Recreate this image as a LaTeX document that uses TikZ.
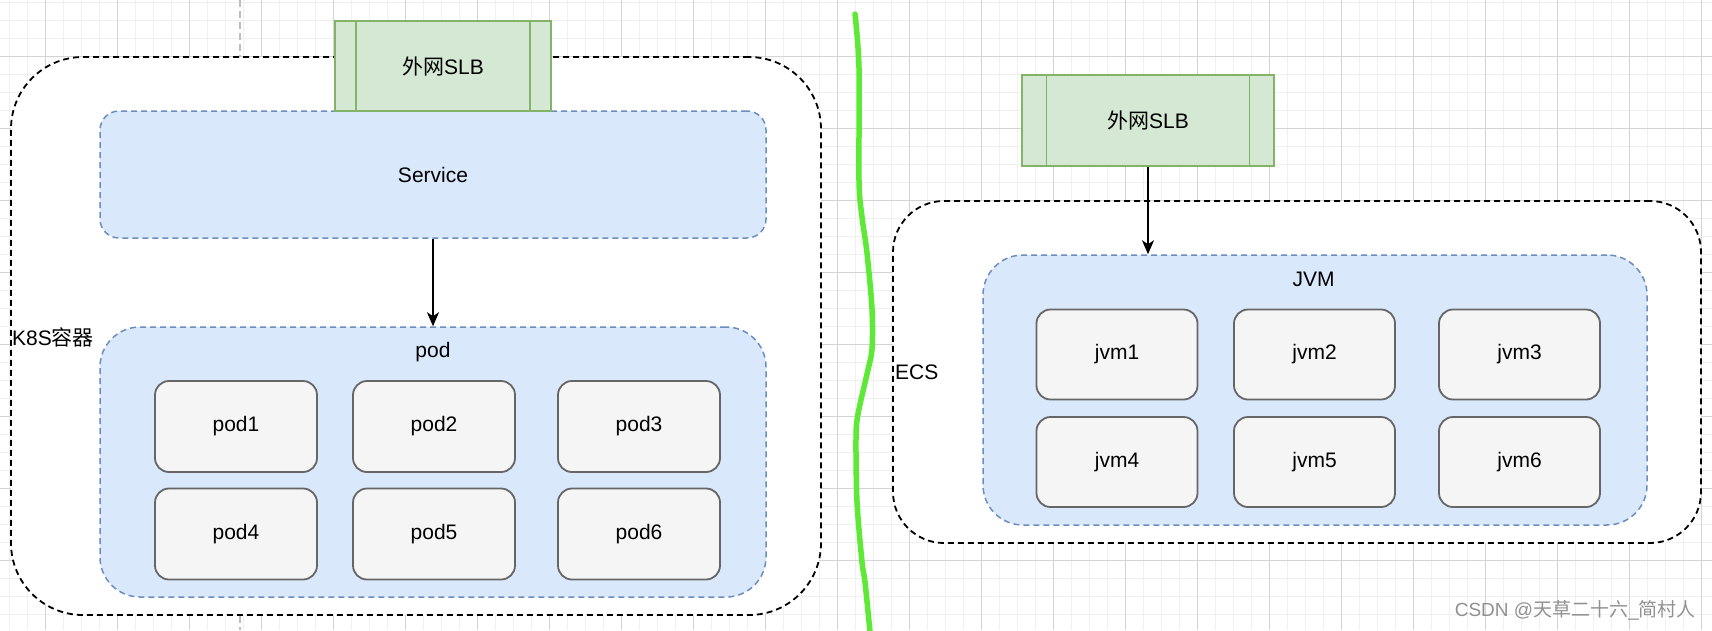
\documentclass[tikz,border=0pt]{standalone}
\usepackage{fontspec}
\setmainfont{Liberation Sans}
\newfontfamily\cjk{Noto Sans CJK SC}
\usetikzlibrary{arrows.meta,calc}
\definecolor{slbfill}{HTML}{D5E8D4}
\definecolor{slbline}{HTML}{82B366}
\definecolor{bluefill}{HTML}{DAE8FC}
\definecolor{blueline}{HTML}{6C8EBF}
\definecolor{podfill}{HTML}{F5F5F5}
\definecolor{podline}{HTML}{666666}
\definecolor{gridminor}{RGB}{240,240,240}
\definecolor{gridmajor}{RGB}{212,212,212}
\definecolor{pagebreak}{RGB}{190,190,190}
\definecolor{sketchgreen}{RGB}{95,233,55}
\definecolor{wmgray}{RGB}{145,145,145}
\begin{document}
\begin{tikzpicture}[x=1pt,y=-1pt,
  font=\fontsize{21}{25}\selectfont,
  outerbox/.style={draw=black, fill=white, dash pattern=on 6pt off 4pt, line width=1.8pt, inner sep=0pt},
  groupbox/.style={draw=blueline, fill=bluefill, dash pattern=on 6pt off 4pt, line width=1.5pt, inner sep=0pt},
  itembox/.style={draw=podline, fill=podfill, line width=1.8pt, rounded corners=14pt, minimum width=162pt, minimum height=91pt, inner sep=0pt},
  slbbox/.style={draw=slbline, fill=slbfill, line width=1.8pt, minimum height=90pt, inner sep=0pt},
  slbinner/.style={draw=slbline, line width=1.8pt},
  conn/.style={draw=black, line width=1.8pt, -{Stealth[length=14pt,width=12pt,inset=4pt]}},
  lbl/.style={inner sep=0pt, text=black},
  minorgrid/.style={draw=gridminor, line width=1pt},
  majorgrid/.style={draw=gridmajor, line width=1pt},
]
\useasboundingbox (0,0) rectangle (1712,630);
\fill[white] (0,0) rectangle (1712,630);
% background grid
\foreach \x in {9,27,...,1711} \draw[minorgrid] (\x,0) -- (\x,630);
\foreach \y in {2,20,...,629} \draw[minorgrid] (0,\y) -- (1712,\y);
\foreach \x in {45,117,...,1711} \draw[majorgrid] (\x,0) -- (\x,630);
\foreach \y in {56,128,...,629} \draw[majorgrid] (0,\y) -- (1712,\y);
% page break
\draw[pagebreak, line width=1.5pt, dash pattern=on 7pt off 4pt] (240,0) -- (240,630);

% ---------- left: K8S ----------
\node[outerbox, rounded corners=72pt, minimum width=810pt, minimum height=558pt] (k8s) at (416,336) {};
\node[lbl, anchor=west] (k8slabel) at (12,337) {K8S{\cjk 容器}};
\node[groupbox, rounded corners=19pt, minimum width=666pt, minimum height=127pt] (service) at (433,174.5) {Service};
\node[slbbox, minimum width=216pt] (slbL) at (443,66) {{\cjk 外网}SLB};
\draw[slbinner] ($(slbL.north west)!0.1!(slbL.north east)$) -- ($(slbL.south west)!0.1!(slbL.south east)$);
\draw[slbinner] ($(slbL.north east)!0.1!(slbL.north west)$) -- ($(slbL.south east)!0.1!(slbL.south west)$);
\node[groupbox, rounded corners=40pt, minimum width=666pt, minimum height=270pt] (podc) at (433,462) {};
\node[lbl] (podlabel) at (433,352) {pod};
\node[itembox] (pod1) at (236,426.5) {pod1};
\node[itembox] (pod2) at (434,426.5) {pod2};
\node[itembox] (pod3) at (639,426.5) {pod3};
\node[itembox] (pod4) at (236,534) {pod4};
\node[itembox] (pod5) at (434,534) {pod5};
\node[itembox] (pod6) at (639,534) {pod6};
\draw[conn] (service.south) -- (podc.north);

% ---------- green divider ----------
\draw[sketchgreen, line width=5.5pt, line cap=round, line join=round]
  plot[smooth, tension=0.5] coordinates {(855,14) (859,68) (859,181) (862,217) (867,253) (872,309) (872,349) (867,374) (858,414) (856,438) (857,502) (862,562) (865,582) (870,632)};

% ---------- right: ECS ----------
\node[outerbox, rounded corners=51pt, minimum width=808pt, minimum height=342pt] (ecs) at (1297,372) {};
\node[lbl, anchor=west] (ecslabel) at (895,372) {ECS};
\node[slbbox, minimum width=252pt, minimum height=91pt] (slbR) at (1148,120.5) {{\cjk 外网}SLB};
\draw[slbinner] ($(slbR.north west)!0.1!(slbR.north east)$) -- ($(slbR.south west)!0.1!(slbR.south east)$);
\draw[slbinner] ($(slbR.north east)!0.1!(slbR.north west)$) -- ($(slbR.south east)!0.1!(slbR.south west)$);
\node[groupbox, rounded corners=40pt, minimum width=664pt, minimum height=270pt] (jvmc) at (1315,390) {};
\node[lbl] (jvmlabel) at (1313.5,279) {JVM};
\node[itembox, minimum width=161pt, minimum height=90pt] (jvm1) at (1117,354.5) {jvm1};
\node[itembox, minimum width=161pt, minimum height=90pt] (jvm2) at (1314.5,354.5) {jvm2};
\node[itembox, minimum width=161pt, minimum height=90pt] (jvm3) at (1519.5,354.5) {jvm3};
\node[itembox, minimum width=161pt, minimum height=90pt] (jvm4) at (1117,462) {jvm4};
\node[itembox, minimum width=161pt, minimum height=90pt] (jvm5) at (1314.5,462) {jvm5};
\node[itembox, minimum width=161pt, minimum height=90pt] (jvm6) at (1519.5,462) {jvm6};
\draw[conn] (slbR.south) -- (slbR.south |- jvmc.north);

% watermark
\node[inner sep=0pt, anchor=east, text=wmgray, font=\fontsize{19}{22}\selectfont] (wm) at (1696,610) {CSDN @{\cjk 天草二十六}\_{\cjk 简村人}};
\end{tikzpicture}
\end{document}
